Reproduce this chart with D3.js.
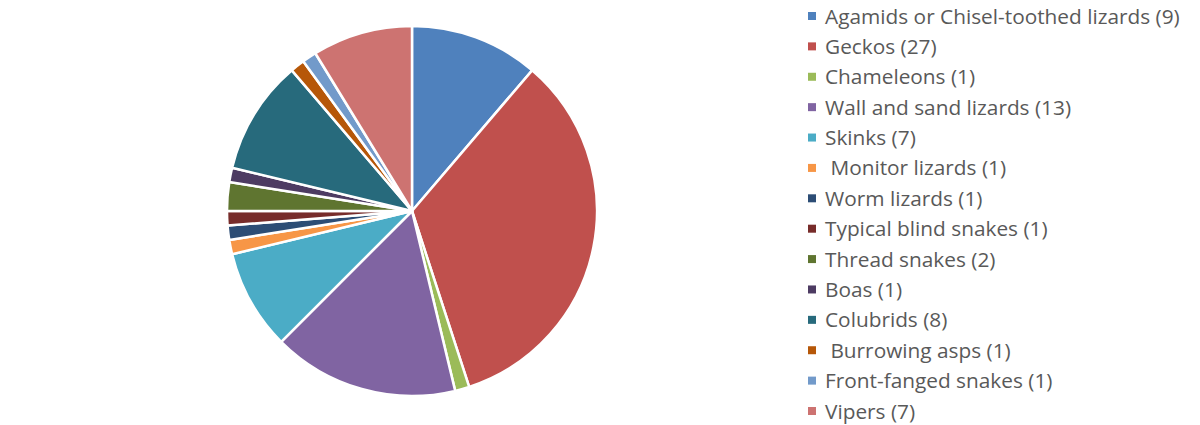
<!DOCTYPE html>
<html><head><meta charset="utf-8">
<script src="https://cdn.jsdelivr.net/npm/d3@7"></script>
<style>body{margin:0;background:#fff}svg{display:block}</style>
</head><body><svg id="c" width="1200" height="425"></svg>
<script>
const categories = ["Agamids or Chisel-toothed lizards","Geckos","Chameleons","Wall and sand lizards","Skinks"," Monitor lizards","Worm lizards","Typical blind snakes","Thread snakes","Boas","Colubrids"," Burrowing asps","Front-fanged snakes","Vipers"];
const values = [9,27,1,13,7,1,1,1,2,1,8,1,1,7];
const colors = ["#4F81BD","#C0504D","#9BBB59","#8064A2","#4BACC6","#F79646","#2C4D75","#772C2A","#5F7530","#4D3B62","#276A7C","#B65708","#729ACA","#CD7371"];

const svg = d3.select("#c");
const data = categories.map((c,i)=>({c, v:values[i], col:colors[i]}));
const pie = d3.pie().value(d=>d.v).sort(null);
const arc = d3.arc().innerRadius(0).outerRadius(185);
const g = svg.append("g").attr("transform","translate(412,211)");
g.selectAll("path").data(pie(data)).join("path")
  .attr("d",arc).attr("fill",d=>d.data.col)
  .attr("stroke","#fff").attr("stroke-width",2.5).attr("stroke-linejoin","round");

const y = d3.scalePoint().domain(categories).range([16,411]);
const lg = svg.append("g");
const row = lg.selectAll("g").data(data).join("g")
  .attr("transform",d=>`translate(0,${y(d.c)})`);
row.append("rect").attr("x",808).attr("y",-4).attr("width",8).attr("height",8).attr("fill",d=>d.col);
const texts = row.append("text").attr("x",825).attr("y",0).attr("dy","0.36em")
  .attr("font-family","'Open Sans', sans-serif").attr("font-size",19)
  .attr("fill","#595959").style("white-space","pre")
  .text(d=>`${d.c} (${d.v})`);
const w = texts.node().getComputedTextLength();
texts.attr("font-size", 19*355/w);
</script></body></html>
